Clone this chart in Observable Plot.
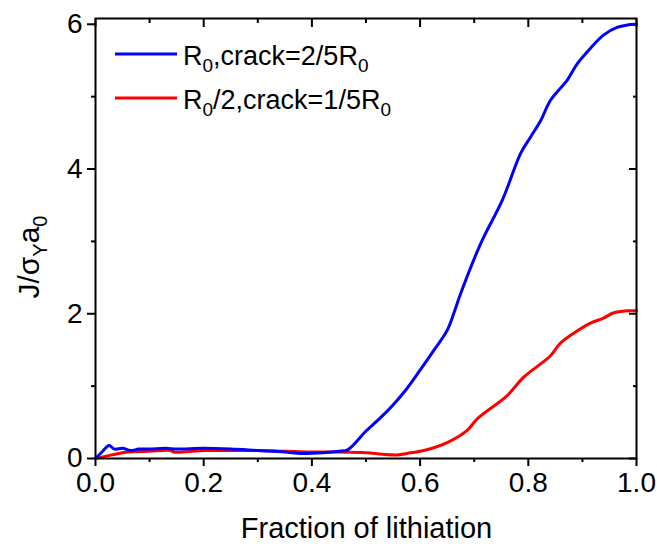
<!DOCTYPE html>
<html>
<head>
<meta charset="utf-8">
<script src="https://cdn.jsdelivr.net/npm/d3@7"></script>
<script src="https://cdn.jsdelivr.net/npm/@observablehq/plot@0.6"></script>
<style>
  html, body { margin: 0; padding: 0; background: white; }
</style>
</head>
<body>
<div id="chart"></div>
<script>
// ---- data ----
const blueFrac = [0, 0.012, 0.025, 0.035, 0.05, 0.065, 0.08, 0.1, 0.13, 0.15, 0.2, 0.25, 0.3, 0.35, 0.38, 0.42, 0.45, 0.466, 0.5, 0.525, 0.55, 0.575, 0.6, 0.625, 0.65, 0.662, 0.675, 0.712, 0.752, 0.786, 0.804, 0.823, 0.841, 0.872, 0.891, 0.915, 0.939, 0.965, 0.983, 1.0];
const blueJ    = [0, 0.09, 0.18, 0.13, 0.14, 0.11, 0.13, 0.13, 0.14, 0.13, 0.14, 0.13, 0.11, 0.09, 0.07, 0.08, 0.1, 0.12, 0.38, 0.55, 0.74, 0.96, 1.22, 1.49, 1.77, 2.0, 2.28, 2.97, 3.57, 4.22, 4.44, 4.67, 4.95, 5.23, 5.46, 5.67, 5.85, 5.96, 5.99, 6.0];

const redFrac = [0, 0.03, 0.06, 0.1, 0.14, 0.145, 0.2, 0.25, 0.3, 0.35, 0.4, 0.45, 0.5, 0.53, 0.558, 0.576, 0.607, 0.65, 0.687, 0.706, 0.761, 0.791, 0.841, 0.859, 0.884, 0.915, 0.939, 0.957, 0.983, 1.0];
const redJ    = [0, 0.05, 0.09, 0.1, 0.11, 0.09, 0.11, 0.11, 0.11, 0.1, 0.09, 0.09, 0.08, 0.06, 0.05, 0.07, 0.11, 0.22, 0.39, 0.55, 0.87, 1.12, 1.42, 1.59, 1.73, 1.87, 1.94, 2.01, 2.04, 2.04];

const xMajor = [0, 0.2, 0.4, 0.6, 0.8, 1.0];
const xMinor = [0.1, 0.3, 0.5, 0.7, 0.9];
const yMajor = [0, 2, 4, 6];
const yMinor = [1, 3, 5];

const seriesNames = ["R0,crack=2/5R0", "R0/2,crack=1/5R0"];

const blue = blueFrac.map((f, i) => ({f, v: blueJ[i]}));
const red = redFrac.map((f, i) => ({f, v: redJ[i]}));

const font = "'Liberation Sans', Arial, sans-serif";

const plot = Plot.plot({
  width: 657,
  height: 544,
  marginLeft: 95,
  marginRight: 21,
  marginTop: 18,
  marginBottom: 86,
  x: {domain: [0, 1], label: null},
  y: {domain: [0, 6.08], label: null},
  style: {fontFamily: font, fontSize: "28px", background: "white", color: "black", overflow: "visible"},
  marks: [
    Plot.axisX({ticks: xMajor, tickSize: 8, tickPadding: 6, tickFormat: d3.format(".1f"), strokeWidth: 2, fontSize: 28, label: null}),
    Plot.axisX({ticks: xMinor, tickSize: 4, fill: "none", strokeWidth: 2, label: null}),
    Plot.axisX({anchor: "top", ticks: xMajor, tickSize: -8, fill: "none", strokeWidth: 2, label: null}),
    Plot.axisX({anchor: "top", ticks: xMinor, tickSize: -4, fill: "none", strokeWidth: 2, label: null}),
    Plot.axisY({ticks: yMajor, tickSize: 8, tickPadding: 5, tickFormat: d3.format("d"), strokeWidth: 2, fontSize: 28, label: null}),
    Plot.axisY({ticks: yMinor, tickSize: 4, fill: "none", strokeWidth: 2, label: null}),
    Plot.axisY({anchor: "right", ticks: yMajor, tickSize: -8, fill: "none", strokeWidth: 2, label: null}),
    Plot.axisY({anchor: "right", ticks: yMinor, tickSize: -4, fill: "none", strokeWidth: 2, label: null}),
    Plot.line(red, {x: "f", y: "v", stroke: "#ff0000", strokeWidth: 3, curve: "catmull-rom"}),
    Plot.line(blue, {x: "f", y: "v", stroke: "#0000ff", strokeWidth: 3, curve: "catmull-rom"}),
    Plot.frame({stroke: "black", strokeWidth: 2})
  ]
});

document.getElementById("chart").appendChild(plot);

const svg = d3.select(plot);

// x-axis title
svg.append("text")
  .attr("x", 366.5).attr("y", 538)
  .attr("text-anchor", "middle")
  .attr("font-family", font).attr("font-size", 29).attr("fill", "black")
  .text("Fraction of lithiation");

// y-axis title  J/σ_Y a_0
const yt = svg.append("text")
  .attr("transform", "translate(39,257) rotate(-90)")
  .attr("text-anchor", "middle")
  .attr("font-family", font).attr("font-size", 30).attr("fill", "black");
yt.append("tspan").text("J/σ");
yt.append("tspan").attr("dy", 8).attr("font-size", 20).text("Y");
yt.append("tspan").attr("dy", -8).text("a");
yt.append("tspan").attr("dy", 8).attr("font-size", 20).text("0");

// legend
const legendItems = [
  {color: "#0000ff", y: 54, parts: [["R", 0], ["0", 1], [",crack=2/5R", 0], ["0", 1]]},
  {color: "#ff0000", y: 98, parts: [["R", 0], ["0", 1], ["/2,crack=1/5R", 0], ["0", 1]]}
];
legendItems.forEach((item, k) => {
  svg.append("line")
    .attr("x1", 115).attr("x2", 177)
    .attr("y1", item.y).attr("y2", item.y)
    .attr("stroke", item.color).attr("stroke-width", 3);
  const t = svg.append("text")
    .attr("x", 183).attr("y", item.y + 11)
    .attr("text-anchor", "start")
    .attr("font-family", font).attr("font-size", 27).attr("fill", "black");
  t.append("title").text(seriesNames[k]);
  let sub = 0;
  item.parts.forEach(([s, isSub]) => {
    const dy = (isSub ? 7 : 0) - (sub ? 7 : 0);
    const ts = t.append("tspan").text(s);
    if (dy) ts.attr("dy", dy);
    if (isSub) ts.attr("font-size", 19);
    sub = isSub;
  });
});
</script>
</body>
</html>
